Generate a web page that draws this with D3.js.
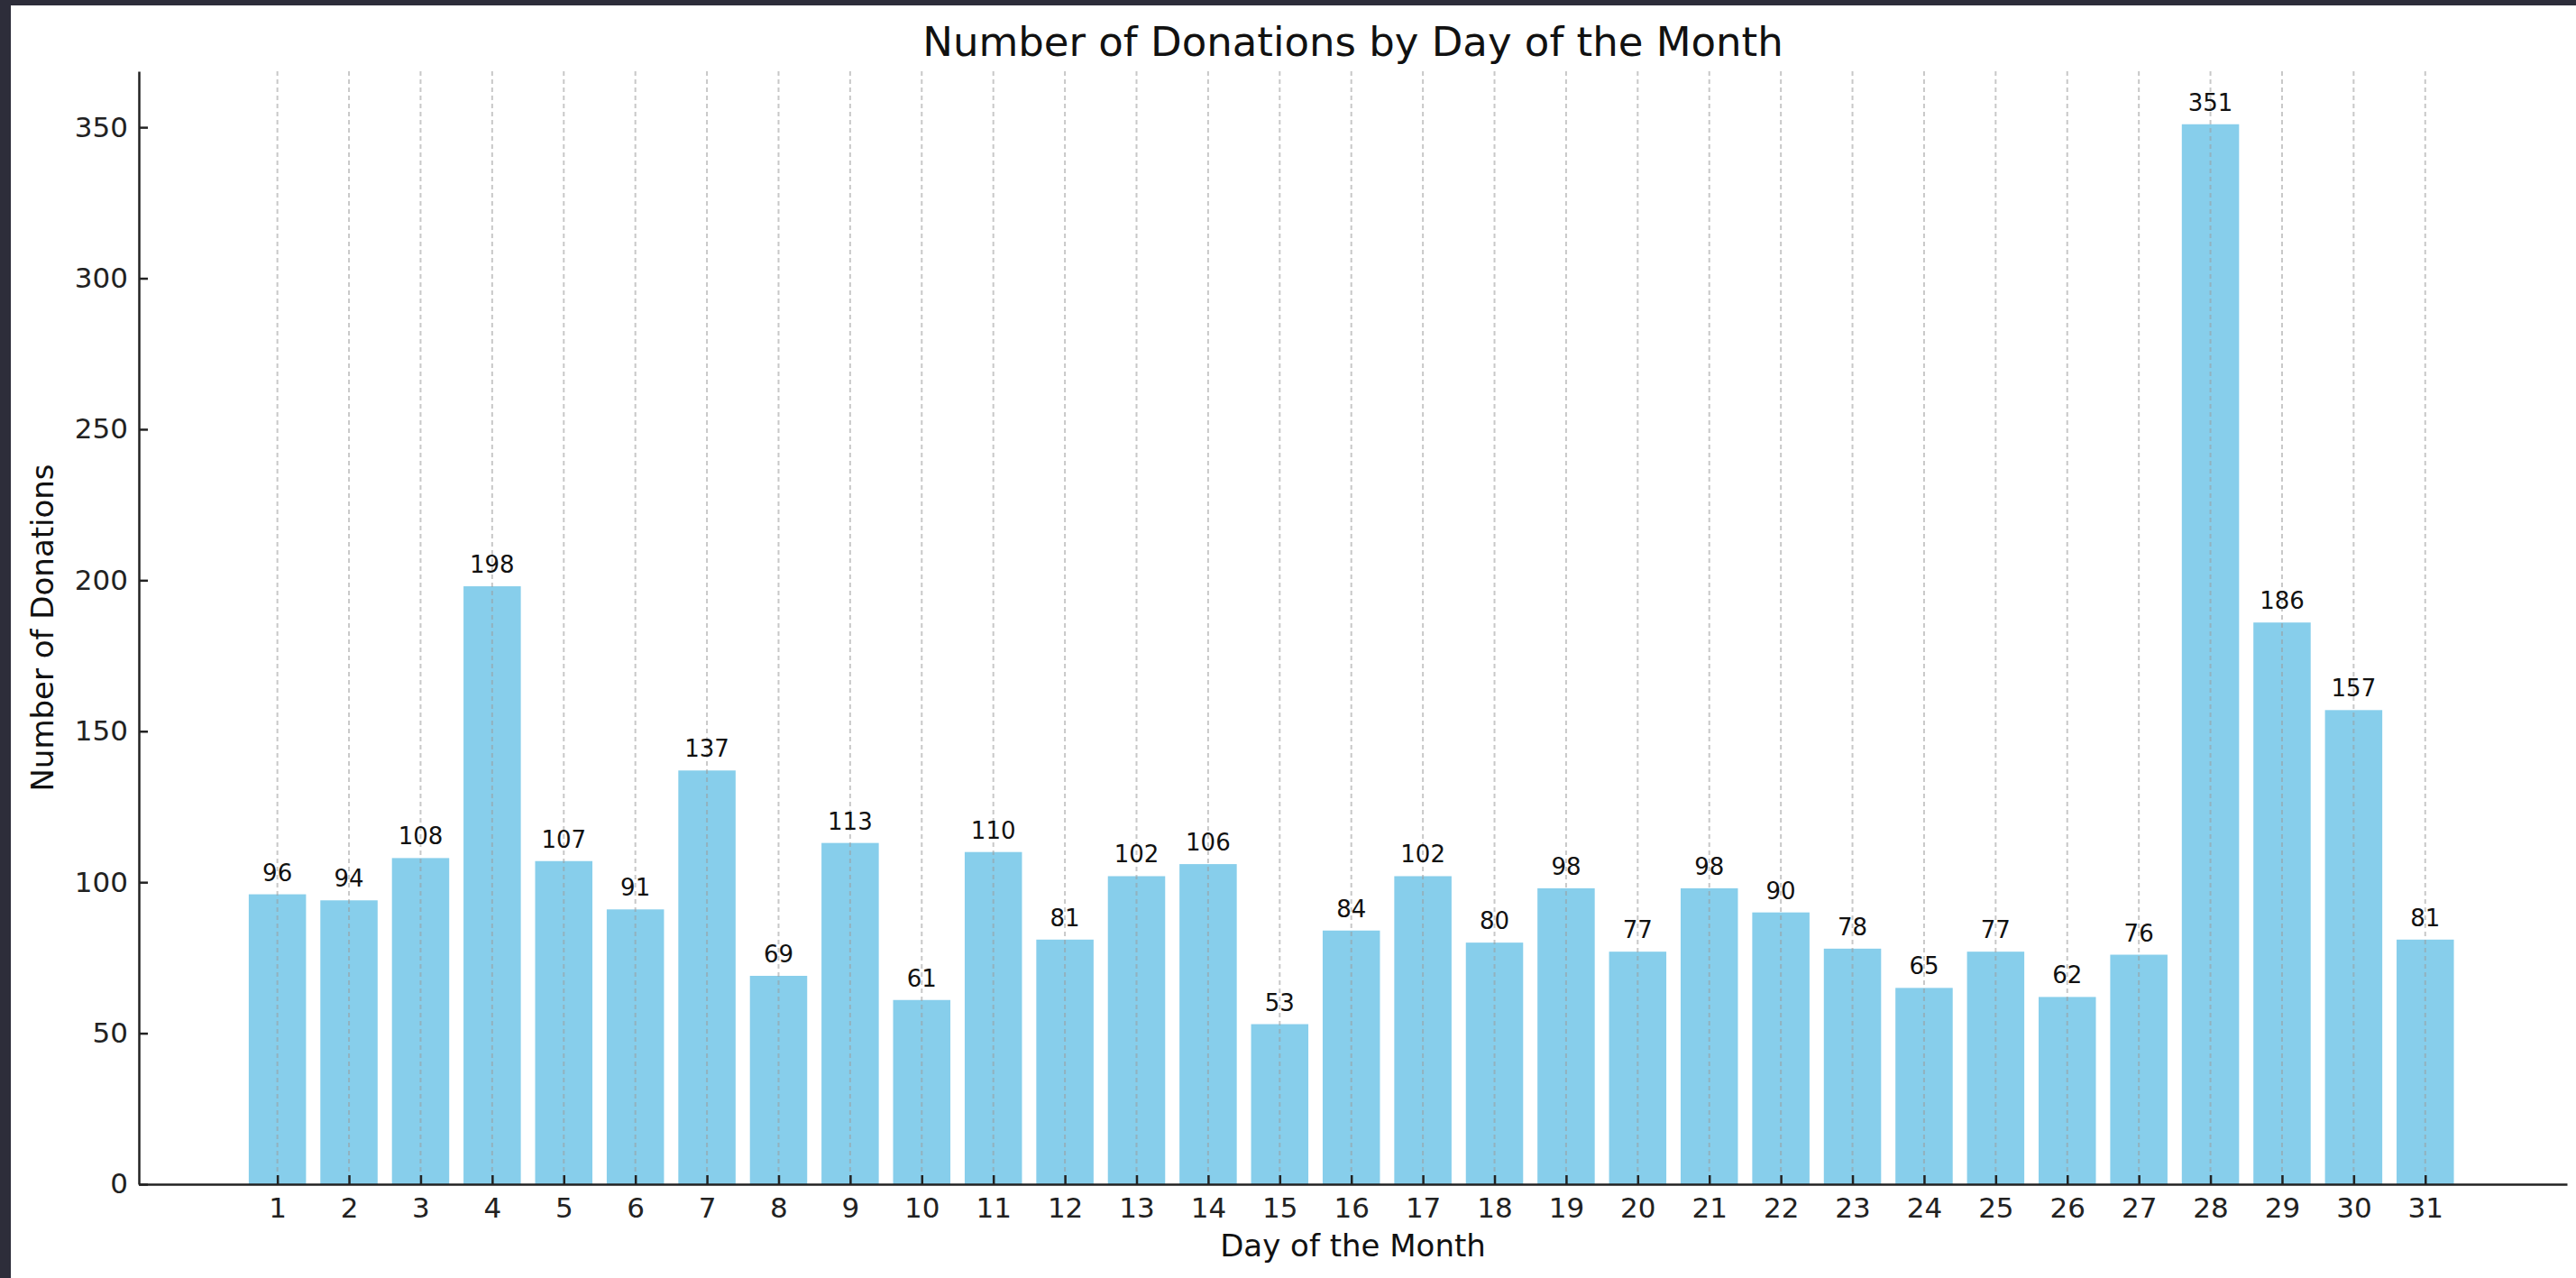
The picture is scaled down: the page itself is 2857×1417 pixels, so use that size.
<!DOCTYPE html>
<html>
<head>
<meta charset="utf-8">
<script src="https://cdn.jsdelivr.net/npm/d3@7"></script>
<style>
  html, body { margin: 0; padding: 0; background: #fff; }
  svg { display: block; font-family: "DejaVu Sans", sans-serif; }
</style>
</head>
<body>
<svg id="canvas" width="2857" height="1417"></svg>
<script>
// donations per day of month
var days = d3.range(1, 32)
var donations = [96, 94, 108, 198, 107, 91, 137, 69, 113, 61,
                 110, 81, 102, 106, 53, 84, 102, 80, 98, 77,
                 98, 90, 78, 65, 77, 62, 76, 351, 186, 157, 81]
var yTicks = [0, 50, 100, 150, 200, 250, 300, 350]

var width = 2857, height = 1417
// plot area (note: "top" is taken by window.top, so prefix these)
var plotL = 154, plotR = 2847, plotT = 79, plotB = 1313
var barW = 0.8

var svg = d3.select('#canvas')

// dark frame of the screenshot (left and top edges)
svg.append('rect').attr('x', 0).attr('y', 0).attr('width', width).attr('height', 6).attr('fill', '#2d2d3a')
svg.append('rect').attr('x', 0).attr('y', 0).attr('width', 12).attr('height', height).attr('fill', '#2d2d3a')

var x = d3.scaleLinear().domain([-0.935, 32.98]).range([plotL, plotR])
var y = d3.scaleLinear().domain([0, d3.max(donations) * 1.05]).range([plotB, plotT])

var data = days.map(function(d, i) { return {day: d, value: donations[i]} })

// bars
svg.append('g').attr('id', 'bars')
  .selectAll('rect')
  .data(data)
  .enter()
  .append('rect')
  .attr('x', function(d) { return x(d.day - barW / 2) })
  .attr('width', function(d) { return x(d.day + barW / 2) - x(d.day - barW / 2) })
  .attr('y', function(d) { return y(d.value) })
  .attr('height', function(d) { return y(0) - y(d.value) })
  .attr('fill', '#87ceeb')

// vertical dashed grid, drawn over the bars
svg.append('g').attr('id', 'grid')
  .selectAll('line')
  .data(days)
  .enter()
  .append('line')
  .attr('x1', function(d) { return x(d) })
  .attr('x2', function(d) { return x(d) })
  .attr('y1', plotT)
  .attr('y2', plotB)
  .attr('stroke', '#9a9a9a')
  .attr('stroke-opacity', 0.55)
  .attr('stroke-width', 2)
  .attr('stroke-dasharray', '5,4')

// value labels
svg.append('g').attr('id', 'labels')
  .selectAll('text')
  .data(data)
  .enter()
  .append('text')
  .attr('x', function(d) { return x(d.day) })
  .attr('y', function(d) { return y(d.value) - 15 })
  .attr('text-anchor', 'middle')
  .attr('font-size', 26)
  .attr('fill', '#111')
  .text(function(d) { return d.value })

// axes
var xAxis = d3.axisBottom(x).tickValues(days).tickFormat(d3.format('d'))
  .tickSizeInner(-10).tickSizeOuter(0).tickPadding(15)
var yAxis = d3.axisLeft(y).tickValues(yTicks)
  .tickSizeInner(-10).tickSizeOuter(0).tickPadding(12)

var gx = svg.append('g').attr('transform', 'translate(0,' + plotB + ')').call(xAxis)
var gy = svg.append('g').attr('transform', 'translate(' + plotL + ',0)').call(yAxis)

;[gx, gy].forEach(function(g) {
  g.attr('font-family', '"DejaVu Sans", sans-serif').attr('font-size', 31)
  g.select('.domain').attr('stroke', '#222').attr('stroke-width', 2.5)
  g.selectAll('.tick line').attr('stroke', '#222').attr('stroke-width', 2.5)
  g.selectAll('.tick text').attr('fill', '#222')
})

// titles
svg.append('text')
  .attr('x', (plotL + plotR) / 2)
  .attr('y', 62)
  .attr('text-anchor', 'middle')
  .attr('font-size', 45)
  .attr('fill', '#111')
  .text('Number of Donations by Day of the Month')

svg.append('text')
  .attr('x', (plotL + plotR) / 2)
  .attr('y', 1393)
  .attr('text-anchor', 'middle')
  .attr('font-size', 34)
  .attr('fill', '#111')
  .text('Day of the Month')

svg.append('text')
  .attr('transform', 'translate(59,' + (plotT + plotB) / 2 + ') rotate(-90)')
  .attr('text-anchor', 'middle')
  .attr('font-size', 34)
  .attr('fill', '#111')
  .text('Number of Donations')
</script>
</body>
</html>
